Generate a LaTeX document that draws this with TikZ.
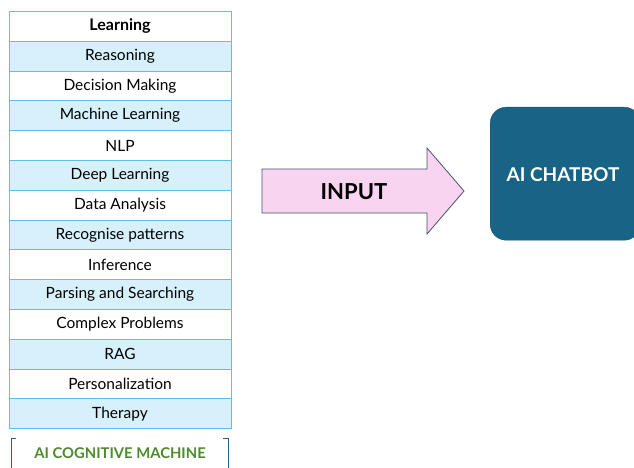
\documentclass[tikz,border=0pt]{standalone}
\usepackage{fontspec}
\setmainfont{Lato}
\definecolor{rowblue}{HTML}{D6F1FB}
\definecolor{rowline}{HTML}{5CC0E8}
\definecolor{arrowpink}{HTML}{F8D4F1}
\definecolor{arrowline}{HTML}{44546A}
\definecolor{chatteal}{HTML}{176487}
\definecolor{machgreen}{HTML}{4E8B2C}
\definecolor{brackline}{HTML}{2F5C7C}
\tikzset{
    tabrow/.style={draw=rowline, line width=0.8pt, minimum width=222pt, minimum height=29.8pt, inner sep=0pt, anchor=north, font=\fontsize{15.5}{17}\selectfont},
    chatbox/.style={fill=chatteal, draw=chatteal!80!black, rounded corners=16pt, minimum width=150pt, minimum height=133pt},
}
\begin{document}
\begin{tikzpicture}[x=1pt, y=-1pt]
            \useasboundingbox (0,0) rectangle (634,468);
            \def\tabx{120}
            \def\tabtop{11}
            \def\rowh{29.8}
            % table of skills
            \foreach \lbl [count=\i from 1] in {Reasoning, Decision Making, Machine Learning, NLP, Deep Learning, Data Analysis, Recognise patterns, Inference, Parsing and Searching, Complex Problems, RAG, Personalization, Therapy} {
                \pgfmathsetmacro{\rowfill}{ifthenelse(mod(\i,2)==1,"rowblue","white")}
                \node[tabrow, fill=\rowfill] (row\i) at (\tabx, {\tabtop + \i*\rowh}) {\lbl};
            }
            \node[tabrow, fill=white, font=\bfseries\fontsize{16}{18}\selectfont] (row0) at (\tabx, \tabtop) {Learning};
            \draw[rowline, line width=1.6pt] (row0.south west) -- (row0.south east);
            % caption with brackets
            \node[text=machgreen, font=\bfseries\fontsize{14.8}{16}\selectfont] (machine) at (\tabx, 453) {AI COGNITIVE MACHINE};
            \draw[brackline, line width=1pt] (16,438) -- (11,438) -- (11,470);
            \draw[brackline, line width=1pt] (223,438) -- (228,438) -- (228,470);
            % input arrow
            \coordinate (tip) at (464,191);
            \draw[arrowline, fill=arrowpink, line width=0.8pt] (262,169) -- (427,169) -- (427,148) -- (tip) -- (427,234) -- (427,213) -- (262,213) -- cycle;
            \node[font=\bfseries\fontsize{22}{24}\selectfont] (input) at (354,192) {INPUT};
            % chatbot box
            \node[chatbox, anchor=north west] (chatbot) at (490,107) {};
            \node[text=white, font=\bfseries\fontsize{19}{21}\selectfont] (chatlbl) at (563,175) {AI CHATBOT};
\end{tikzpicture}
\end{document}
